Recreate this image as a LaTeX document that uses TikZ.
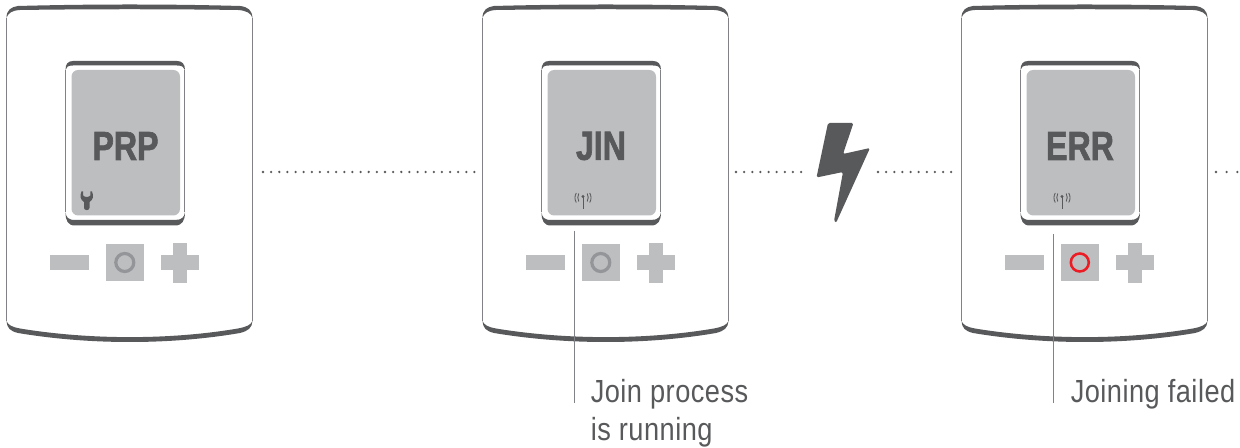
\documentclass[tikz,border=0pt]{standalone}
\usepackage{fontspec}
\usetikzlibrary{positioning}
\newfontfamily\labelFont[FakeStretch=0.85,LetterSpace=1.5]{Liberation Sans}
\newfontfamily\screenFont[FakeStretch=0.79,BoldFeatures={FakeBold=1.6}]{Liberation Sans}
\definecolor{caseDark}{HTML}{58595B}
\definecolor{caseSide}{HTML}{808285}
\definecolor{keyGray}{HTML}{BCBEC0}
\definecolor{ringGray}{HTML}{939598}
\definecolor{ringRed}{HTML}{ED1C24}
\tikzstyle{diagram} = [x = 0.75pt, y = -0.75pt]
\tikzstyle{caseBand} = [fill=caseDark]
\tikzstyle{caseEdge} = [color=caseSide, line width=0.8pt]
\tikzstyle{keyShape} = [fill=keyGray]
\tikzstyle{iconLine} = [color=caseDark, line width=0.65pt]
\tikzstyle{screenText} = [font=\screenFont\bfseries\fontsize{30.5}{30.5}\selectfont, text=caseDark, inner sep=0pt]
\tikzstyle{calloutText} = [font=\labelFont\fontsize{24}{28.5}\selectfont, text=caseDark, inner sep=0pt, align=left, anchor=north west]
\tikzstyle{calloutLine} = [color=caseSide, line width=0.8pt]
\tikzstyle{dotLine} = [color=caseDark, line width=1.9pt, line cap=round, dash pattern=on 0pt off 6.1pt]
\newcommand{\deviceCase}{
  \fill [caseBand] (6.5,18) .. controls (6.5,10) and (11,7) .. (18,6) .. controls (90,4) and (170,4) .. (240,6) .. controls (248,7) and (252,10) .. (252.5,18) .. controls (251,13) and (246,10.5) .. (238,10) .. controls (170,9) and (90,9) .. (20,10) .. controls (12,10.5) and (8,13) .. (6.5,18) -- cycle;
  \fill [caseBand] (6.5,321) .. controls (7,328) and (10,331) .. (18,333) .. controls (90,345) and (170,345) .. (240,333) .. controls (248,331) and (252,328) .. (252.5,321) .. controls (251,325) and (246,327) .. (238,328.5) .. controls (170,340) and (90,340) .. (20,328.5) .. controls (12,327) and (8,325) .. (6.5,321) -- cycle;
  \draw [caseEdge] (6.7,18) -- (6.7,321);
  \draw [caseEdge] (252.3,18) -- (252.3,321);
}
\newcommand{\deviceScreen}{
  \fill [caseBand] (65.5,70) .. controls (65.5,64) and (68,61) .. (73,61) -- (177,61) .. controls (182,61) and (185,64) .. (185,70) .. controls (184,67) and (182,65.5) .. (177,65.5) -- (73,65.5) .. controls (68,65.5) and (66,67) .. (65.5,70) -- cycle;
  \fill [caseBand] (65.5,212) .. controls (65.5,221) and (68,225.5) .. (75,225.5) -- (175,225.5) .. controls (182,225.5) and (185,221) .. (185,212) .. controls (184.5,217) and (182,220) .. (175,220) -- (75,220) .. controls (68,220) and (66,217) .. (65.5,212) -- cycle;
  \draw [caseEdge] (65.6,70) -- (65.6,212);
  \draw [caseEdge] (184.9,70) -- (184.9,212);
  \fill [keyShape, rounded corners=5pt] (71.5,70) rectangle (180,215.5);
}
\newcommand{\deviceKeys}[2]{
  \fill [keyShape] (50,255.5) rectangle (88.7,270);
  \fill [keyShape] (106,244) rectangle (143.7,281);
  \draw [color=#1, line width=#2] (124.8,262.5) circle (9);
  \fill [keyShape] (160.7,255.5) rectangle (199.2,270);
  \fill [keyShape] (173,243) rectangle (187.2,283);
}
\newcommand{\antennaIcon}{
  \draw [iconLine] (107,196) -- (107,209);
  \fill [caseDark] (107,196.5) circle (1.7);
  \draw [iconLine] (102.8,193.5) .. controls (101.4,196) and (101.4,199) .. (102.8,201.5);
  \draw [iconLine] (100.3,193) .. controls (98.5,196) and (98.5,199.5) .. (100.3,202.5);
  \draw [iconLine] (111.2,193.5) .. controls (112.6,196) and (112.6,199) .. (111.2,201.5);
  \draw [iconLine] (113.7,193) .. controls (115.5,196) and (115.5,199.5) .. (113.7,202.5);
}
\newcommand{\wrenchIcon}{
  \fill [caseDark] (81.5,191.5) .. controls (79.5,196) and (80.5,200) .. (84,202) -- (84,208) .. controls (84,210.8) and (89.5,210.8) .. (89.5,208) -- (89.5,202) .. controls (93,200) and (94,196) .. (92,191.5) -- (90.3,191.5) -- (90.3,195.5) .. controls (89,197.5) and (84.5,197.5) .. (83.2,195.5) -- (83.2,191.5) -- cycle;
}
\begin{document}
\begin{tikzpicture}[diagram]
  \useasboundingbox (0,0) rectangle (1240,448);
  \begin{scope}
    \deviceCase
    \deviceScreen
    \deviceKeys{ringGray}{2.4pt}
    \wrenchIcon
    \node [screenText] (prpText) at (125.5,146) {PRP};
  \end{scope}
  \begin{scope}[xshift=476*0.75pt]
    \deviceCase
    \deviceScreen
    \deviceKeys{ringGray}{2.4pt}
    \antennaIcon
    \node [screenText] (jinText) at (125,146) {JIN};
  \end{scope}
  \begin{scope}[xshift=955*0.75pt]
    \deviceCase
    \deviceScreen
    \deviceKeys{ringRed}{1.9pt}
    \antennaIcon
    \node [screenText] (errText) at (125,146) {ERR};
  \end{scope}
  \fill [caseBand, rounded corners=1.2pt] (828,123) -- (853.5,123) -- (843,154) -- (870,148) -- (836,223) -- (834,221) -- (843,172) -- (816.5,177.5) -- cycle;
  \coordinate (dotsA) at (263,172);
  \coordinate (dotsB) at (476,172);
  \coordinate (dotsC) at (736,172);
  \coordinate (dotsD) at (802,172);
  \coordinate (dotsE) at (878,172);
  \coordinate (dotsF) at (953,172);
  \coordinate (dotsG) at (1216,172);
  \coordinate (dotsH) at (1240,172);
  \draw [dotLine] (dotsA) -- (dotsB);
  \draw [dotLine] (dotsC) -- (dotsD);
  \draw [dotLine] (dotsE) -- (dotsF);
  \draw [dotLine, dash pattern=on 0pt off 8pt] (dotsG) -- (dotsH);
  \node [calloutText] (joinText) at (590.5,379) {Join process\\is running};
  \node [calloutText] (failText) at (1070.5,379) {Joining failed};
  \coordinate (joinTop) at (574.5,231);
  \coordinate (joinEnd) at (574.5,403);
  \coordinate (failTop) at (1053.5,234);
  \coordinate (failEnd) at (1053.5,403);
  \draw [calloutLine] (joinTop) -- (joinEnd);
  \draw [calloutLine] (failTop) -- (failEnd);
\end{tikzpicture}
\end{document}
